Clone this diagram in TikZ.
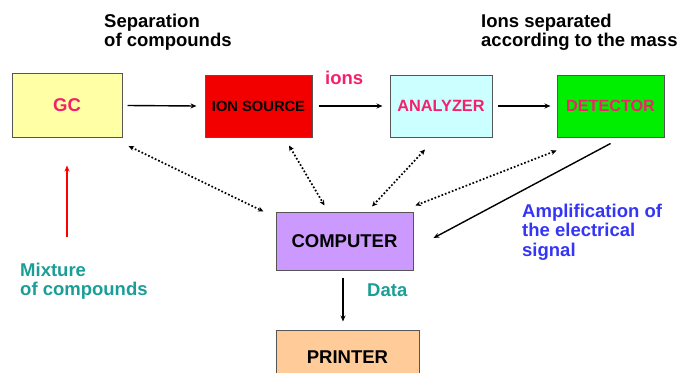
\documentclass[tikz,border=0pt]{standalone}
\usepackage{fontspec}
\setmainfont{Liberation Sans}
\usetikzlibrary{arrows.meta,calc}
\definecolor{magtxt}{HTML}{F5206C}
\definecolor{tealtxt}{HTML}{1A9E96}
\definecolor{bluetxt}{HTML}{3535F5}
\definecolor{gcfill}{HTML}{FFFFA6}
\definecolor{ionfill}{HTML}{F20000}
\definecolor{anafill}{HTML}{CCFFFF}
\definecolor{detfill}{HTML}{00EE00}
\definecolor{compfill}{HTML}{CC99FF}
\definecolor{prnfill}{HTML}{FFCC99}
\definecolor{boxline}{HTML}{555555}
\tikzset{
  box/.style={draw=boxline, line width=1pt, inner sep=0pt, font=\bfseries},
  lbl/.style={inner sep=0pt, align=left, font=\fontsize{18.5}{19.5}\selectfont\bfseries},
  flow/.style={line width=1.4pt, -{Stealth[length=6pt,width=5pt]}},
  link/.style={line width=1.7pt, dotted, {Stealth[length=5.5pt,width=5pt]}-{Stealth[length=5.5pt,width=5pt]}},
}
\begin{document}
\begin{tikzpicture}[x=1pt,y=-1pt]
\useasboundingbox (0,0) rectangle (679,372);
% boxes
\node[box, fill=gcfill, minimum width=110pt, minimum height=64pt, text=magtxt, font=\fontsize{18.5}{20}\selectfont\bfseries] (gc) at (67,105.5) {GC};
\node[box, fill=ionfill, minimum width=107pt, minimum height=62pt, text=black, font=\fontsize{14.7}{16}\selectfont\bfseries] (ion) at (258.5,106) {ION SOURCE};
\node[box, fill=anafill, minimum width=102pt, minimum height=62pt, text=magtxt, font=\fontsize{16.3}{18}\selectfont\bfseries] (ana) at (441,106) {ANALYZER};
\node[box, fill=detfill, minimum width=107pt, minimum height=62pt, text=magtxt, font=\fontsize{16.2}{18}\selectfont\bfseries] (det) at (610.5,106) {DETECTOR};
\node[box, fill=compfill, minimum width=137pt, minimum height=58pt, text=black, font=\fontsize{18.5}{20}\selectfont\bfseries] (comp) at (344.5,241) {COMPUTER};
\node[box, fill=prnfill, minimum width=143pt, minimum height=60pt, text=black, font=\fontsize{18.5}{20}\selectfont\bfseries, text depth=0pt] (prn) at (347.5,360) {\raisebox{5pt}{PRINTER}};
% labels
\node[lbl, anchor=north west, text=black] (sep) at (104,13.5) {Separation\\of compounds};
\node[lbl, anchor=north west, text=black] (ionsep) at (481,13.5) {Ions separated\\according to the mass};
\node[lbl, anchor=base west, text=magtxt] (ions) at (325,84) {ions};
\node[lbl, anchor=north west, text=tealtxt] (mix) at (20,262.5) {Mixture\\of compounds};
\node[lbl, anchor=north west, text=bluetxt] (amp) at (522,203.5) {Amplification of\\the electrical\\signal};
\node[lbl, anchor=base west, text=tealtxt] (data) at (367,296) {Data};
% main flow
\draw[flow] ([xshift=5pt]gc.east) -- ([xshift=-8pt]ion.west);
\draw[flow] ([xshift=6pt]ion.east) -- ([xshift=-7pt]ana.west);
\draw[flow] ([xshift=5pt]ana.east) -- ([xshift=-6pt]det.west);
% red input arrow
\coordinate (mixtop) at (67,237);
\draw[red, line width=1.4pt, -{Stealth[length=6pt,width=5pt]}] (mixtop) -- ([yshift=-27.5pt]gc.south);
% dotted links
\draw[link] ([xshift=6pt,yshift=-8pt]gc.south east) -- ([xshift=-12pt]comp.north west);
\draw[link] ([xshift=30.5pt,yshift=-8pt]ion.south) -- ([xshift=-20pt,yshift=6pt]comp.north);
\draw[link] ([xshift=-16pt,yshift=-12pt]ana.south) -- ([xshift=27.5pt,yshift=5pt]comp.north);
\draw[link] ([yshift=-13pt]det.south west) -- ([xshift=2pt,yshift=6pt]comp.north east);
% detector signal
\draw[flow] ([yshift=-6pt]det.south) -- ([xshift=20pt,yshift=3pt]comp.east);
% data to printer
\draw[flow] ([xshift=-1.5pt,yshift=-7pt]comp.south) -- ([xshift=-4.5pt,yshift=8pt]prn.north);
\end{tikzpicture}
\end{document}
